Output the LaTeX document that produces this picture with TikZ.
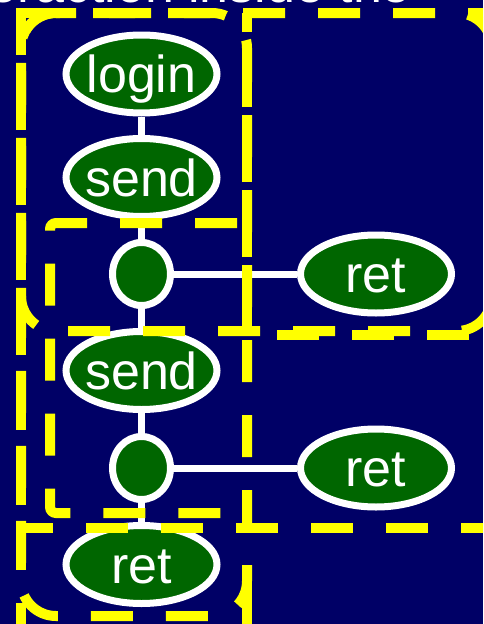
\documentclass[tikz,border=0pt]{standalone}
\usepackage{fontspec}
\setmainfont{Liberation Sans}
\usetikzlibrary{shapes.geometric}
\definecolor{navy}{RGB}{0,0,102}
\definecolor{dgreen}{RGB}{0,102,0}
\definecolor{yel}{RGB}{255,255,0}
\tikzset{
  oval/.style={shape=ellipse, draw=white, fill=dgreen, line width=7pt, inner sep=0pt,
    minimum width=151pt, minimum height=78pt, text=white,
    font=\fontsize{52}{60}\selectfont, text height=37pt, text depth=0pt},
  dot/.style={shape=ellipse, draw=white, fill=dgreen, line width=7pt, inner sep=0pt,
    minimum width=58pt, minimum height=63pt},
  link/.style={draw=white, line width=7pt},
  ybox/.style={draw=yel, line width=10pt, dash pattern=on 42pt off 33pt},
  yline/.style={draw=yel, line width=10pt},
}
\newcommand{\lbl}[1]{\makebox[0pt]{#1}}
\begin{document}
\begin{tikzpicture}[x=1pt,y=-1pt]
\useasboundingbox (0,0) rectangle (483,624);
\fill[navy] (0,0) rectangle (483,624);
\clip (0,0) rectangle (483,624);
% title (cut off at the top edge)
\node[anchor=base east, text=white, inner sep=0pt, outer sep=0pt, font=\fontsize{52}{60}\selectfont] (title) at (411,2) {Interaction inside the};
% nodes
\node[oval] (login) at (141.5,74) {\lbl{login}};
\node[oval] (send1) at (141.5,177.5) {\lbl{send}};
\node[dot]  (c1)    at (141.5,274) {};
\node[oval] (ret1)  at (376,274) {\lbl{ret}};
\node[oval] (send2) at (141.5,370.5) {\lbl{send}};
\node[dot]  (c2)    at (141.5,468) {};
\node[oval] (ret2)  at (376,468) {\lbl{ret}};
\node[oval] (ret3)  at (141.5,564.5) {\lbl{ret}};
% connectors
\draw[link] (login) -- (send1);
\draw[link] (send1) -- (c1);
\draw[link] (c1) -- (send2);
\draw[link] (send2) -- (c2);
\draw[link] (c2) -- (ret3);
\draw[link] (c1) -- (ret1);
\draw[link] (c2) -- (ret2);
% yellow dashed regions
% upper wide rounded region
\draw[ybox, rounded corners=35pt, dash phase=38pt] (56,13) -- (492,13) -- (492,331) -- (440,331);
\draw[ybox, rounded corners=35pt, dash phase=45pt] (440,331) -- (21,331) -- (21,13) -- (56,13);
% left column rounded region
\draw[ybox, rounded corners=35pt, dash phase=22pt] (56,13) -- (247,13) -- (247,616) -- (21,616) -- (21,13) -- (56,13);
% inner region
\draw[ybox, rounded corners=6pt] (237,223) -- (50,223) -- (50,513) -- (230,513);
% square upper-right region
\draw[ybox, dash phase=4pt] (247,13) -- (495,13) -- (495,335) -- (247,335) -- cycle;
% square left edge and corner
\draw[ybox] (21,13) -- (21,528);
\draw[yline] (16,13) -- (60,13);
% lower square regions
\draw[ybox, dash phase=10pt] (21,528) -- (495,528);
\draw[ybox] (21,528) -- (21,640);
\draw[yline] (247,565) -- (247,640);
\end{tikzpicture}
\end{document}
